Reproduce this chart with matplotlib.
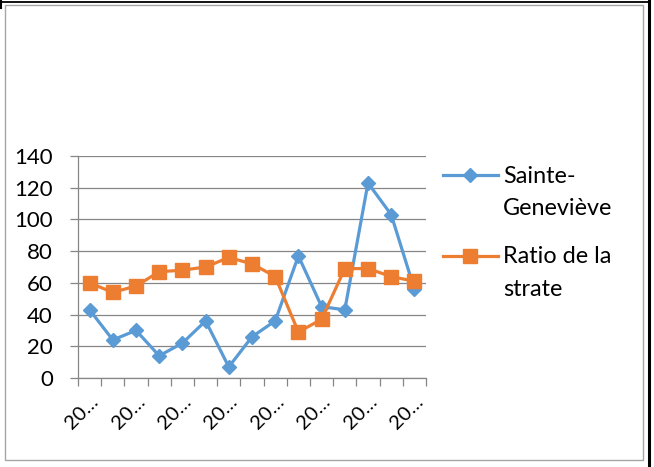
import matplotlib.pyplot as plt
from matplotlib.lines import Line2D
from matplotlib.patches import Rectangle

# Chart data
labels = ["20…"] * 15
sainte_genevieve = [43, 24, 30, 14, 22, 36, 7, 26, 36, 77, 45, 43, 123, 103, 56]
ratio_strate = [60, 54, 58, 67, 68, 70, 76, 72, 64, 29, 37, 69, 69, 64, 61]
yticks = [0, 20, 40, 60, 80, 100, 120, 140]

blue = "#5B9BD5"
orange = "#ED7D31"
grey = "#868686"
W, H = 654, 467

plt.rcParams["font.family"] = ["Lato", "DejaVu Sans"]


def fx(x):
    return x / W


def fy(y):
    return 1 - y / H


fig = plt.figure(figsize=(W / 100, H / 100), dpi=100)
fig.patch.set_facecolor("white")

# outer frame and the black page edges
fig.add_artist(Rectangle((fx(5.5), fy(460)), fx(643) - fx(5.5), fy(4.5) - fy(460),
                         transform=fig.transFigure, fill=False, edgecolor="#A6A6A6", lw=1))
fig.add_artist(Line2D([0, fx(650)], [fy(1.5), fy(1.5)], transform=fig.transFigure,
                      color="black", lw=1.3))
fig.add_artist(Line2D([fx(648.5), fx(648.5)], [0, 1], transform=fig.transFigure,
                      color="black", lw=2.2))
fig.add_artist(Line2D([fx(1), fx(1)], [fy(0), fy(8)], transform=fig.transFigure,
                      color="black", lw=1.5))

ax = fig.add_axes([fx(78), fy(378), fx(426) - fx(78), fy(156) - fy(378)])
x = [i + 0.5 for i in range(len(labels))]

ax.plot(x, sainte_genevieve, color=blue, lw=2.3, marker="D", ms=6.8, zorder=3)
ax.plot(x, ratio_strate, color=orange, lw=2.3, marker="s", ms=9.5, zorder=4)

ax.set_xlim(0, len(labels))
ax.set_ylim(0, 140)
ax.set_yticks(yticks)
ax.yaxis.grid(True, color=grey, lw=0.9)
ax.set_axisbelow(True)

for s in ["top", "right"]:
    ax.spines[s].set_visible(False)
for s in ["left", "bottom"]:
    ax.spines[s].set_color(grey)
    ax.spines[s].set_linewidth(0.9)

ax.tick_params(axis="y", length=6, width=0.9, color=grey, pad=12, labelsize=16)

# category labels on every second category, tick marks at the boundaries
ax.set_xticks(x[::2])
ax.set_xticklabels(labels[::2], rotation=45, ha="right", va="top",
                   rotation_mode="anchor", fontsize=14.5)
ax.set_xticks(range(len(labels) + 1), minor=True)
ax.tick_params(axis="x", which="major", length=0, pad=11)
ax.tick_params(axis="x", which="minor", length=6, width=0.9, color=grey)

# legend
fig.add_artist(Line2D([fx(443), fx(470), fx(498)], [fy(175)] * 3, transform=fig.transFigure,
                      color=blue, lw=2.3, marker="D", ms=6.8, markevery=[1]))
fig.add_artist(Line2D([fx(443), fx(470), fx(498)], [fy(256)] * 3, transform=fig.transFigure,
                      color=orange, lw=2.3, marker="s", ms=9.5, markevery=[1]))
for txt, yb in [("Sainte-", 183), ("Geneviève", 215), ("Ratio de la", 263), ("strate", 296)]:
    fig.text(fx(503), fy(yb), txt, fontsize=16.8, va="baseline", ha="left")

fig.savefig("out.png", dpi=100)
